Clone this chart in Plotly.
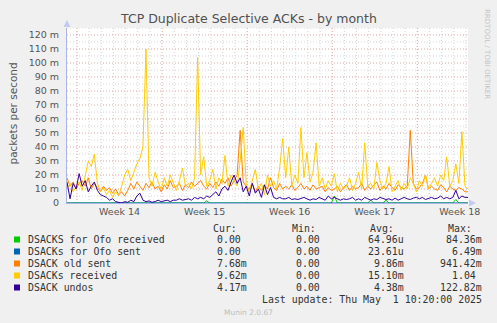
import plotly.graph_objects as go
import pandas as pd

# ---------------- data (values in milli-packets/s, 6-hour samples) ----------------
start_time = "2025-03-30 04:12"
end_time = "2025-05-02 04:12"
sample_step = "6h"

dsack_received = [
    10, 14, 8, 12,   15, 9, 20, 30,   26, 35, 14, 8,   11, 6, 9, 4,
    8, 5, 12, 20,    24, 16, 22, 28,  32, 40, 110, 18, 12, 22, 15, 10,
    18, 12, 20, 14,  9, 16, 25, 12,   14, 10, 18, 104, 20, 33, 12, 16,
    24, 10, 18, 14,  34, 12, 20, 16,  12, 30, 54, 14,  8, 16, 24, 10,
    14, 6, 20, 12,   16, 10, 25, 46,  18, 40, 12, 20,  14, 54, 18, 36,
    15, 22, 43, 12,  18, 10, 16, 12,  21, 8, 14, 10,   12, 18, 9, 14,
    22, 10, 43, 12,  14, 10, 29, 16,  10, 14, 26, 8,   12, 16, 9, 14,
    10, 18, 14, 8,   16, 12, 20, 10,  14, 18, 12, 20,  16, 33, 12, 16,
    28, 14, 51, 12,  10,
]
dsack_old_sent = [
    18, 12, 15, 10,  14, 16, 12, 18,  10, 14, 11, 8,   12, 9, 11, 7,
    10, 6, 8, 5,     9, 14, 10, 15,   12, 9, 14, 11,   15, 10, 12, 8,
    13, 10, 16, 11,  12, 14, 9, 13,   11, 15, 12, 14,  16, 12, 10, 14,
    11, 15, 12, 17,  14, 18, 12, 16,  20, 52, 15, 12,  10, 14, 8, 12,
    9, 13, 10, 18,   11, 9, 14, 10,   12, 10, 13, 9,   11, 14, 10, 12,
    9, 13, 10, 11,   12, 8, 11, 9,    10, 12, 8, 11,   13, 9, 12, 10,
    11, 14, 9, 12,   10, 13, 15, 9,   12, 10, 14, 11,  9, 13, 11, 10,
    12, 52, 14, 10,  11, 14, 20, 10,  12, 10, 9, 13,   11, 8, 12, 10,
    9, 11, 10, 8,    8,
]
dsack_undos = [
    15, 3, 14, 10,   21, 12, 16, 8,   12, 15, 9, 6,    5, 4, 2, 3,
    1, 0.5, 0, 1,    0.5, 2, 1, 5,    7, 2, 1, 1.5,    0.5, 1, 2, 1,
    1.5, 2, 1, 2,    2, 3, 2, 2.5,    3, 2, 4, 3,      4, 3, 5, 4,
    6, 8, 5, 10,     12, 9, 15, 20,   14, 18, 8, 12,   5, 14, 7, 10,
    4, 13, 6, 11,    4, 3, 4, 3,      3, 4, 2.5, 3,    2.5, 3, 4, 3,
    2, 3, 2.5, 4,    3, 2, 5, 3,      4, 3, 2, 3,      2.5, 3, 4, 2,
    3, 2, 4, 3,      2, 3, 2.5, 4,    3, 2.5, 3, 2,    3.5, 2, 3, 4,
    3, 2.5, 3.5, 4,  3, 4, 2.5, 3,    4, 3, 3.5, 5,    3, 4, 3, 4,
    9, 3, 5, 4,      4,
]
ofo_received = [
    0, 0, 0, 0,  0, 0, 0, 0,  0, 0, 0, 0,  0, 0, 0, 0,
    0, 0, 0, 0,  0, 0, 0, 0,  0, 0, 0, 0,  0, 0, 0, 0,
    0, 0, 0, 0,  0, 0, 0, 0,  0, 0, 0, 0,  0, 0, 1.5, 0,
    0, 0, 0, 0,  0, 0, 0, 0,  0, 0, 0, 0,  0, 0, 0, 0,
    0, 0, 0, 0,  0, 0, 0, 0,  0, 0, 0, 0,  0, 0, 0, 0,
    0, 0, 0, 0,  0, 0, 0, 0,  5, 0, 0, 0,  0, 0, 0, 0,
    0, 0, 0, 0,  2, 0, 0, 0,  0, 2, 0, 0,  0, 0, 0, 0,
    0, 0, 0, 0,  0, 0, 0, 0,  0, 0, 0, 0,  0, 0, 0, 0,
    2.5, 0, 0, 0,  0,
]
ofo_sent = [
    0, 0, 0, 0,  0, 0, 0, 0,  0, 0, 0, 0,  0, 0, 0, 0,
    0, 0, 0, 0,  0, 0, 0, 0,  0, 0, 0, 0,  0, 0, 0, 0,
    0, 0, 0, 0,  0, 0, 0, 0,  0, 0, 0, 0,  0, 0, 0, 0,
    0, 0, 0, 0,  0, 0, 0, 0,  0, 0, 0, 0,  0, 0, 0, 0,
    0, 0, 0, 0,  0, 0, 0, 0,  0, 0, 0, 0,  0, 0, 0, 0,
    0, 0, 0, 0,  0, 0, 0, 0,  0, 0, 0, 0,  0, 0, 0, 0,
    0, 0, 0, 0,  0, 0, 0, 0,  0, 0, 0, 0,  0, 0, 0, 0,
    0, 0, 0, 0,  0, 0, 0, 0,  0, 0, 0, 0,  0, 0, 0, 0,
    0, 0, 0, 0,  0,
]

series_names = ["DSACKS for Ofo received", "DSACKs for Ofo sent", "DSACK old sent",
                "DSACKs received", "DSACK undos"]
series_colors = ["#00CC00", "#0066B3", "#FF8000", "#FFCC00", "#330099"]
cur_vals = ["0.00", "0.00", "7.68m", "9.62m", "4.17m"]
min_vals = ["0.00", "0.00", "0.00", "0.00", "0.00"]
avg_vals = ["64.96u", "23.61u", "9.86m", "15.10m", "4.38m"]
max_vals = ["84.36m", "6.49m", "941.42m", "1.04", "122.82m"]

week_labels = ["Week 14", "Week 15", "Week 16", "Week 17", "Week 18"]
week_label_pos = ["2025-04-03 12:00", "2025-04-10 12:00", "2025-04-17 12:00",
                  "2025-04-24 12:00", "2025-05-01 12:00"]
y_tickvals = [0, 10, 20, 30, 40, 50, 60, 70, 80, 90, 100, 110, 120]
y_ticktext = ["0", "10 m", "20 m", "30 m", "40 m", "50 m", "60 m", "70 m",
              "80 m", "90 m", "100 m", "110 m", "120 m"]

# ---------------- figure ----------------
W, H = 497, 323
PL, PR, PT, PB = 67, 468, 28, 203
PW, PH = PR - PL, PB - PT
YMAX = 125


def ax(px):
    return (px - PL) / PW


def ay(py):
    return (PB - py) / PH


times = pd.date_range(start_time, periods=len(dsack_received), freq=sample_step)

fig = go.Figure()
series_data = [ofo_received, ofo_sent, dsack_old_sent, dsack_received, dsack_undos]
for name, color, vals in zip(series_names, series_colors, series_data):
    fig.add_trace(go.Scatter(x=times, y=vals, mode="lines", name=name,
                             line=dict(color=color, width=1), showlegend=False,
                             hoverinfo="skip"))

RED = "#DDA4A4"
GRAY = "#D6D6D6"
DASH = "1px,2px"
shapes = []
# horizontal grid
for v in range(5, YMAX + 1, 5):
    shapes.append(dict(type="line", xref="paper", yref="y", x0=0, x1=1, y0=v, y1=v,
                       line=dict(color=RED if v % 10 == 0 else GRAY, width=1, dash=DASH),
                       layer="below"))
# vertical grid (days, weeks in red)
days = pd.date_range("2025-03-31", "2025-05-02", freq="D")
for d in days:
    shapes.append(dict(type="line", xref="x", yref="paper", x0=d, x1=d, y0=0, y1=1,
                       line=dict(color=RED if d.weekday() == 0 else GRAY, width=1, dash=DASH),
                       layer="below"))
# axis arrows
AC = "#C2CAF0"
shapes.append(dict(type="path", xref="paper", yref="paper",
                   path=f"M {ax(63.5)} {ay(27)} L {ax(70.5)} {ay(27)} L {ax(67)} {ay(20)} Z",
                   fillcolor=AC, line=dict(width=0), layer="above"))
shapes.append(dict(type="path", xref="paper", yref="paper",
                   path=f"M {ax(469)} {ay(199.5)} L {ax(469)} {ay(206.5)} L {ax(476)} {ay(203)} Z",
                   fillcolor=AC, line=dict(width=0), layer="above"))

annotations = []
annotations.append(dict(text="TCP Duplicate Selective ACKs - by month", x=ax(248), y=ay(18.5),
                        xref="paper", yref="paper", showarrow=False, xanchor="center",
                        yanchor="middle", font=dict(family="DejaVu Sans", size=12.5, color="#505050")))
annotations.append(dict(text="packets per second", x=ax(12.5), y=ay(114), xref="paper",
                        yref="paper", showarrow=False, textangle=-90, xanchor="center",
                        yanchor="middle", font=dict(family="DejaVu Sans", size=10.5, color="#555555")))
annotations.append(dict(text="RRDTOOL / TOBI OETIKER", x=ax(487), y=ay(54), xref="paper",
                        yref="paper", showarrow=False, textangle=90, xanchor="center",
                        yanchor="middle", font=dict(family="DejaVu Sans", size=7, color="#C4C4C4")))

MONO = dict(family="DejaVu Sans Mono", size=9.9, color="#333333")


def txt(s, x, y, anchor="left", font=MONO):
    annotations.append(dict(text=s, x=ax(x), y=ay(y), xref="paper", yref="paper",
                            showarrow=False, xanchor=anchor, yanchor="middle",
                            borderpad=0, font=font))


header_y = 228
txt("Cur:", 212.3, header_y)
txt("Min:", 291, header_y)
txt("Avg:", 369.3, header_y)
txt("Max:", 446.7, header_y)

row_y = [239.5, 251.5, 263.5, 275.5, 287.5]
col_right = [248.3, 327.0, 405.0, 482.7]
NB = "\u00a0"
for i, name in enumerate(series_names):
    y = row_y[i]
    shapes.append(dict(type="rect", xref="paper", yref="paper",
                       x0=ax(14), x1=ax(20), y0=ay(y + 3), y1=ay(y - 3),
                       fillcolor=series_colors[i], line=dict(width=0), layer="above"))
    txt(name, 26.7, y)
    for col, vals in enumerate([cur_vals, min_vals, avg_vals, max_vals]):
        s = vals[i]
        if s[-1].isdigit():
            s = s + NB
        txt(s, col_right[col], y, anchor="right")

txt("Last update: Thu May " + NB + "1 10:20:00 2025", 482.7, 299.5, anchor="right")
txt("Munin 2.0.67", 248, 312, anchor="center",
    font=dict(family="DejaVu Sans", size=7.5, color="#BDBDBD"))

AXC = "#AAB4E6"
fig.update_layout(
    width=W, height=H, autosize=False,
    margin=dict(l=PL, r=W - PR, t=PT, b=H - PB, pad=0),
    paper_bgcolor="#F0F0F0", plot_bgcolor="#FFFFFF",
    shapes=shapes, annotations=annotations,
    xaxis=dict(type="date", range=[start_time, end_time], tickmode="array",
               tickvals=week_label_pos, ticktext=week_labels, showgrid=False,
               zeroline=False, showline=True, linecolor=AXC, linewidth=1, ticks="",
               tickfont=dict(family="DejaVu Sans", size=9.5, color="#555555"),
               fixedrange=True),
    yaxis=dict(range=[0, YMAX], tickmode="array", tickvals=y_tickvals, ticktext=y_ticktext,
               showgrid=False, zeroline=False, showline=True, linecolor=AXC, linewidth=1,
               ticks="", ticklabelstandoff=5,
               tickfont=dict(family="DejaVu Sans", size=9.5, color="#555555"),
               fixedrange=True),
    showlegend=False,
)

fig.write_html("out.html")
